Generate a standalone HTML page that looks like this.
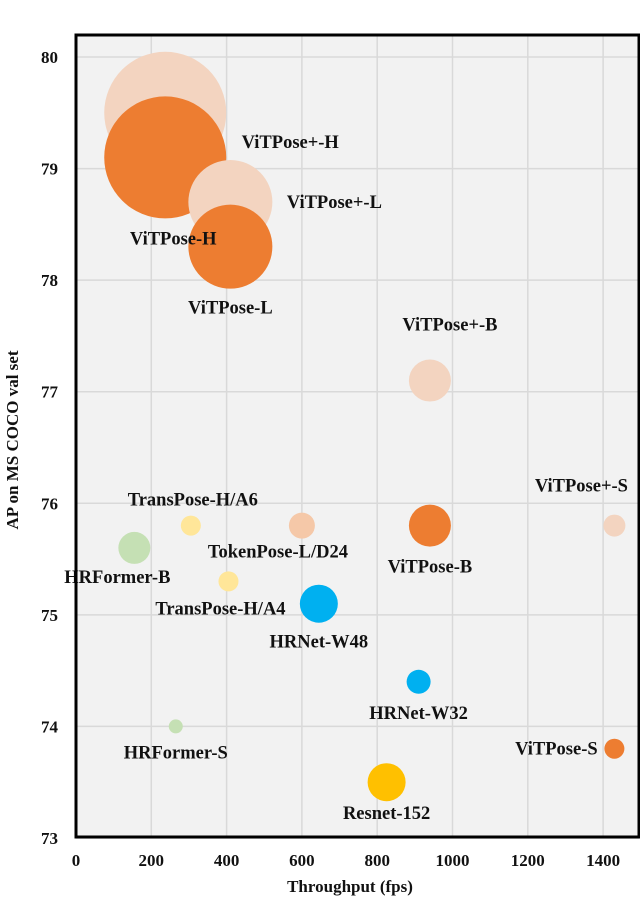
<!DOCTYPE html>
<html><head><meta charset="utf-8"><style>
html,body{margin:0;padding:0;background:#fff;}
svg{display:block;}
text{font-family:"Liberation Serif",serif;font-weight:bold;fill:#111;}
</style></head><body>
<svg id="chart" width="640" height="899" viewBox="0 0 640 899" xmlns="http://www.w3.org/2000/svg">
<rect x="76" y="35" width="563" height="802" fill="#f2f2f2"/>
<g id="grid"></g>
<g id="bubbles"></g>
<g id="labels"></g>
<rect x="76" y="35" width="563" height="802" fill="none" stroke="#000" stroke-width="3"/>
<g id="ticks"></g>
<text x="350" y="892" text-anchor="middle" font-size="17">Throughput (fps)</text>
<text transform="translate(18,440) rotate(-90)" text-anchor="middle" font-size="17">AP on MS COCO val set</text>
</svg>
<script>
const names = ["ViTPose+-H","ViTPose-H","ViTPose+-L","ViTPose-L","ViTPose+-B","ViTPose-B","ViTPose+-S","ViTPose-S","TokenPose-L/D24","TransPose-H/A6","TransPose-H/A4","HRFormer-B","HRFormer-S","HRNet-W48","HRNet-W32","Resnet-152"];
const throughput = [237,237,410,410,940,940,1430,1430,600,305,405,155,265,645,910,825];
const ap = [79.5,79.1,78.7,78.3,77.1,75.8,75.8,73.8,75.8,75.8,75.3,75.6,74.0,75.1,74.4,73.5];
const sizes = [61,61,42,42,21,21,11,10,13,10,10,16,7,19,12,19];
const colors = ["#f3d4c0","#ed7d31","#f3d4c0","#ed7d31","#f3d4c0","#ed7d31","#f3d4c0","#ed7d31","#f5c8a8","#ffe699","#ffe699","#c5e0b4","#c5e0b4","#00b0f0","#00b0f0","#ffc000"];
const labelDx = [125,8,104,0,20,0,-33,-58,-24,2,-8,-17,0,0,0,0];
const labelDy = [29,81,0,61,-56,41,-40,0,26,-26,27,29,26,38,31,31];
const xTicks = [0,200,400,600,800,1000,1200,1400];
const yTicks = [73,74,75,76,77,78,79,80];

const X = v => 76 + v * 0.3765;
const Y = v => 57 + (80 - v) * 111.57;
const NS = "http://www.w3.org/2000/svg";
const mk = (t, a, p) => { const e = document.createElementNS(NS, t); for (const k in a) e.setAttribute(k, a[k]); p.appendChild(e); return e; };
const grid = document.getElementById('grid'), bub = document.getElementById('bubbles'), lab = document.getElementById('labels'), tk = document.getElementById('ticks');
xTicks.forEach(v => {
  if (v > 0) { const l = mk('line', {x1: X(v), x2: X(v), y1: 35, y2: 837, stroke: '#d9d9d9', 'stroke-width': 1.5}, grid);
      }
  const t = mk('text', {x: X(v), y: 866, 'text-anchor': 'middle', 'font-size': 17}, tk); t.textContent = v;
   
});
yTicks.forEach(v => {
  const l = mk('line', {x1: 76, x2: 639, y1: Y(v), y2: Y(v), stroke: '#d9d9d9', 'stroke-width': 1.5}, grid);
   
  const t = mk('text', {x: 58, y: Y(v) + 6, 'text-anchor': 'end', 'font-size': 17}, tk); t.textContent = v;
   
});
names.forEach((n, i) => {
  const c = mk('circle', {cx: X(throughput[i]), cy: Y(ap[i]), r: sizes[i], fill: colors[i]}, bub);
  
  
  const t = mk('text', {x: X(throughput[i]) + labelDx[i], y: Y(ap[i]) + labelDy[i] + 6, 'text-anchor': 'middle', 'font-size': 18.5}, lab);
  t.textContent = n;
  
  
});
</script>
</body></html>
